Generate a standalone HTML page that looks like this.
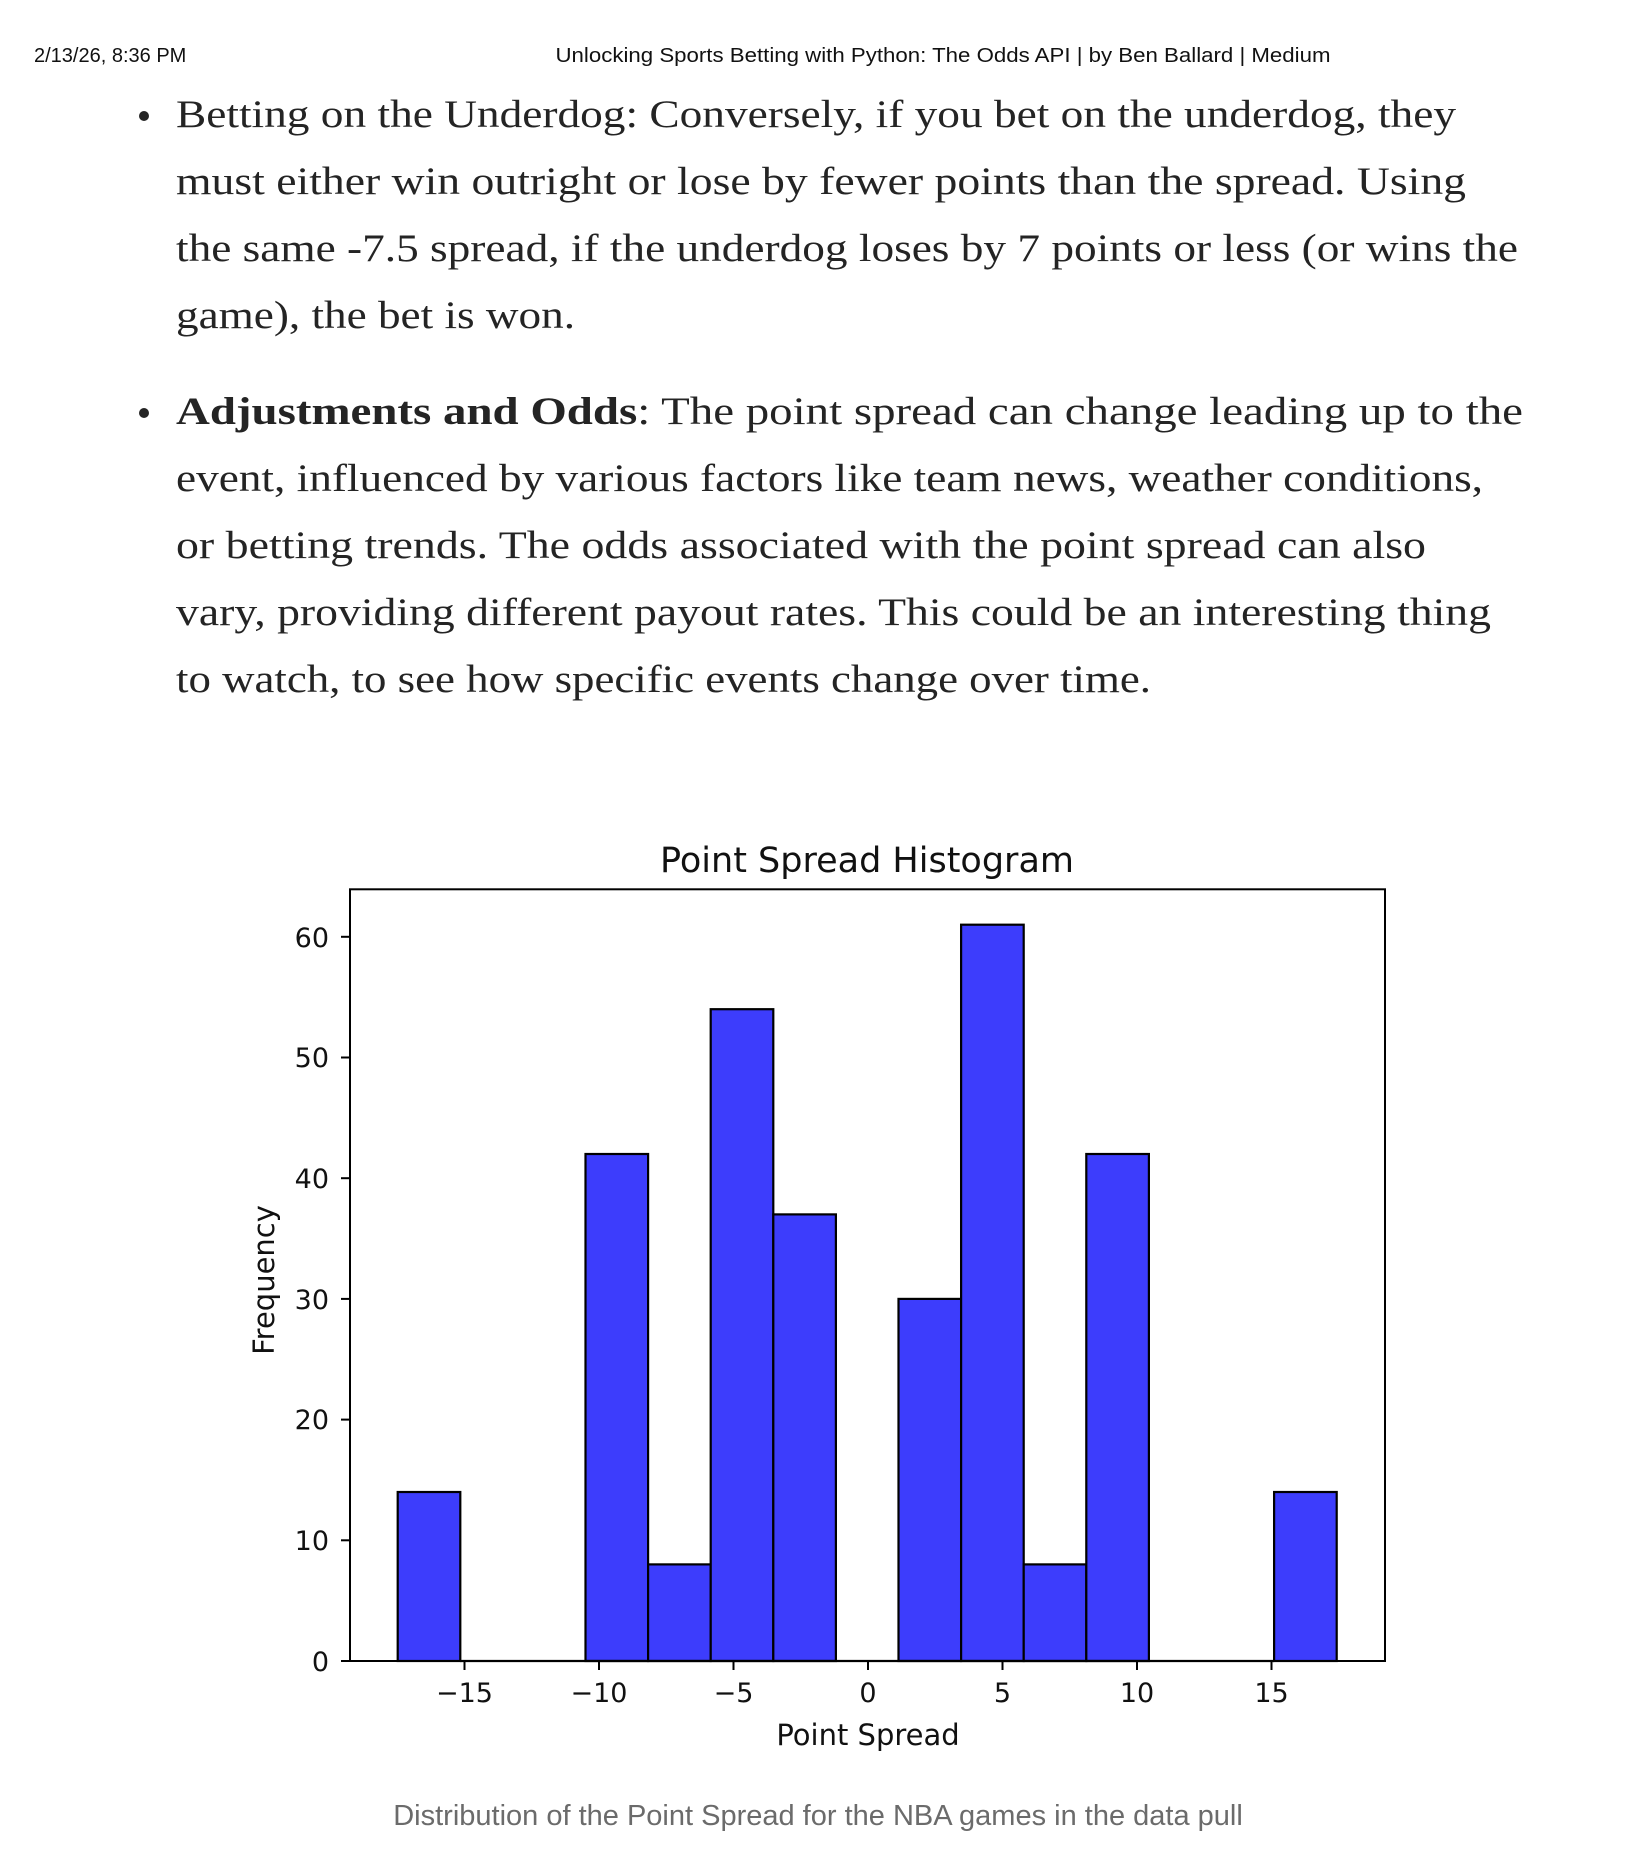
<!DOCTYPE html>
<html><head><meta charset="utf-8"><style>
html,body{margin:0;padding:0;background:#fff}
svg{display:block}
.b{font-family:"Liberation Serif",serif;font-size:39px;fill:#242424}
.t{font-family:"DejaVu Sans",sans-serif;fill:#111}
</style></head><body>
<svg width="1632" height="1870" viewBox="0 0 1632 1870" xmlns="http://www.w3.org/2000/svg">
<text x="34" y="62" font-family="Liberation Sans,sans-serif" font-size="20" fill="#111">2/13/26, 8:36 PM</text>
<text x="943" y="62" font-family="Liberation Sans,sans-serif" font-size="20" fill="#111" text-anchor="middle" textLength="775" lengthAdjust="spacingAndGlyphs">Unlocking Sports Betting with Python: The Odds API | by Ben Ballard | Medium</text>
<circle cx="144" cy="116" r="5" fill="#242424"/>
<circle cx="144" cy="413" r="5" fill="#242424"/>
<text class="b" x="176" y="127" textLength="1280" lengthAdjust="spacingAndGlyphs">Betting on the Underdog: Conversely, if you bet on the underdog, they</text>
<text class="b" x="176" y="194" textLength="1290" lengthAdjust="spacingAndGlyphs">must either win outright or lose by fewer points than the spread. Using</text>
<text class="b" x="176" y="261" textLength="1342" lengthAdjust="spacingAndGlyphs">the same -7.5 spread, if the underdog loses by 7 points or less (or wins the</text>
<text class="b" x="176" y="328" textLength="399" lengthAdjust="spacingAndGlyphs">game), the bet is won.</text>
<text class="b" x="176" y="424" textLength="1347" lengthAdjust="spacingAndGlyphs"><tspan font-weight="bold">Adjustments and Odds</tspan>: The point spread can change leading up to the</text>
<text class="b" x="176" y="491" textLength="1307" lengthAdjust="spacingAndGlyphs">event, influenced by various factors like team news, weather conditions,</text>
<text class="b" x="176" y="558" textLength="1250" lengthAdjust="spacingAndGlyphs">or betting trends. The odds associated with the point spread can also</text>
<text class="b" x="176" y="625" textLength="1315" lengthAdjust="spacingAndGlyphs">vary, providing different payout rates. This could be an interesting thing</text>
<text class="b" x="176" y="692" textLength="975" lengthAdjust="spacingAndGlyphs">to watch, to see how specific events change over time.</text>

<text class="t" x="867" y="872" font-size="35" text-anchor="middle">Point Spread Histogram</text>
<g fill="#3d3dfc" stroke="#000" stroke-width="2.2">
<rect x="397.7" y="1492" width="62.6" height="169"/>
<rect x="585.5" y="1154" width="62.6" height="507"/>
<rect x="648.1" y="1564.4" width="62.6" height="96.6"/>
<rect x="710.7" y="1009.2" width="62.6" height="651.8"/>
<rect x="773.3" y="1214.4" width="62.6" height="446.6"/>
<rect x="898.5" y="1298.9" width="62.6" height="362.1"/>
<rect x="961.1" y="924.7" width="62.6" height="736.3"/>
<rect x="1023.7" y="1564.4" width="62.6" height="96.6"/>
<rect x="1086.3" y="1154" width="62.6" height="507"/>
<rect x="1274.1" y="1492" width="62.6" height="169"/>
</g>
<line x1="460.3" y1="1661" x2="1274.1" y2="1661" stroke="#000" stroke-width="2.2"/>
<rect x="350" y="889.3" width="1035" height="771.7" fill="none" stroke="#000" stroke-width="2"/>
<g stroke="#000" stroke-width="2">
<line x1="341" y1="1661" x2="350" y2="1661"/>
<line x1="341" y1="1540.3" x2="350" y2="1540.3"/>
<line x1="341" y1="1419.6" x2="350" y2="1419.6"/>
<line x1="341" y1="1298.9" x2="350" y2="1298.9"/>
<line x1="341" y1="1178.2" x2="350" y2="1178.2"/>
<line x1="341" y1="1057.5" x2="350" y2="1057.5"/>
<line x1="341" y1="936.8" x2="350" y2="936.8"/>
<line x1="464.5" y1="1661" x2="464.5" y2="1670"/>
<line x1="599" y1="1661" x2="599" y2="1670"/>
<line x1="733.5" y1="1661" x2="733.5" y2="1670"/>
<line x1="868" y1="1661" x2="868" y2="1670"/>
<line x1="1002.5" y1="1661" x2="1002.5" y2="1670"/>
<line x1="1137" y1="1661" x2="1137" y2="1670"/>
<line x1="1271.5" y1="1661" x2="1271.5" y2="1670"/>
</g>
<g class="t" font-size="27" text-anchor="end">
<text x="329" y="1671">0</text><text x="329" y="1550">10</text><text x="329" y="1429">20</text>
<text x="329" y="1309">30</text><text x="329" y="1188">40</text><text x="329" y="1067">50</text><text x="329" y="947">60</text>
</g>
<g class="t" font-size="27" text-anchor="middle">
<text x="464.5" y="1702">−15</text><text x="599" y="1702">−10</text><text x="733.5" y="1702">−5</text>
<text x="868" y="1702">0</text><text x="1002.5" y="1702">5</text><text x="1137" y="1702">10</text><text x="1271.5" y="1702">15</text>
<text x="868" y="1745" font-size="29">Point Spread</text>
<text transform="translate(274,1280) rotate(-90)" font-size="29">Frequency</text>
</g>
<text x="818" y="1825" font-family="Liberation Sans,sans-serif" font-size="29" fill="#6b6b6b" text-anchor="middle">Distribution of the Point Spread for the NBA games in the data pull</text>
</svg>
</body></html>
